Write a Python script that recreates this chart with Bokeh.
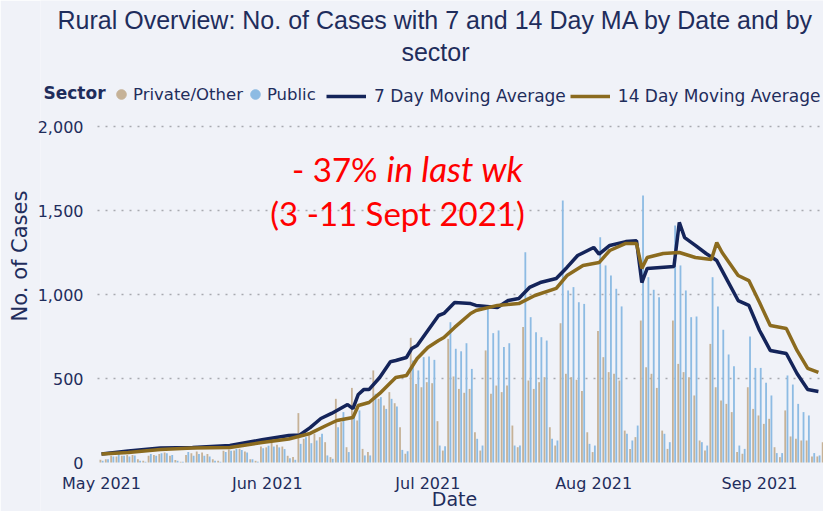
import pandas as pd
from bokeh.plotting import figure
from bokeh.models import (ColumnDataSource, Range1d, Legend, LegendItem, Label,
                          FixedTicker, DatetimeTickFormatter, NumeralTickFormatter)
from bokeh.transform import dodge
from bokeh.embed import file_html
from bokeh.resources import INLINE

# ---------------- data ----------------
start_date = "2021-05-01"

private_other = [
    16, 20, 40, 36, 40, 45, 45, 20, 10, 40, 45, 50, 60, 40, 15, 5, 45, 55, 65, 60,
    50, 20, 10, 70, 78, 72, 82, 65, 20, 10, 95,
    90, 120, 105, 95, 40, 32, 294, 141, 161, 171, 151, 121, 32, 379, 240, 91, 444, 250, 81,
    62, 548, 379, 339, 419, 353, 210, 52, 742, 468, 448,
    478, 472, 246, 71, 736, 512, 438, 415, 438, 180, 71, 667, 409, 458, 419, 458, 220, 91,
    806, 488, 438, 478, 508, 210, 101, 829, 528, 508, 492, 425, 180,
    62, 782, 627, 538, 528, 488, 190, 81, 151, 845, 567, 528, 444, 190, 81, 845, 587, 538,
    508, 399, 131, 71, 706, 448, 369, 349, 300, 62, 52, 448, 319,
    280, 230, 260, 91, 32, 310, 155, 141, 131, 131, 36, 36, 121,
]

public = [
    10, 20, 36, 50, 40, 36, 42, 10, 5, 50, 40, 55, 55, 45, 10, 5, 62, 40, 50, 40,
    35, 10, 5, 62, 70, 80, 75, 60, 20, 5, 85,
    100, 95, 90, 80, 25, 16, 111, 151, 115, 131, 171, 42, 22, 210, 300, 62, 275, 310, 42,
    42, 409, 389, 319, 379, 333, 75, 67, 607, 548, 627,
    631, 611, 101, 97, 835, 677, 662, 710, 557, 141, 101, 925, 770, 786, 687, 710, 101, 101,
    1252, 865, 776, 746, 726, 141, 131, 1560, 1024, 1044, 954, 944, 111,
    101, 1341, 1173, 1113, 1034, 929, 171, 131, 220, 1589, 1103, 1028, 984, 171, 121, 1411, 1173, 1024,
    865, 869, 121, 101, 1103, 929, 790, 643, 573, 101, 81, 750, 563,
    563, 474, 399, 56, 56, 518, 464, 349, 300, 280, 56, 42, 60,
]

ma7_dates = [
    "2021-05-01", "2021-05-06", "2021-05-12", "2021-05-18", "2021-05-25", "2021-05-31",
    "2021-06-05", "2021-06-07", "2021-06-09", "2021-06-11", "2021-06-13", "2021-06-14",
    "2021-06-16", "2021-06-17", "2021-06-18", "2021-06-19", "2021-06-20", "2021-06-22",
    "2021-06-24", "2021-06-25", "2021-06-27", "2021-06-28", "2021-06-29", "2021-07-01",
    "2021-07-03", "2021-07-04", "2021-07-06", "2021-07-09", "2021-07-10", "2021-07-14",
    "2021-07-16", "2021-07-18", "2021-07-20", "2021-07-22", "2021-07-25", "2021-07-27",
    "2021-07-29", "2021-08-01", "2021-08-02", "2021-08-04", "2021-08-07", "2021-08-09",
    "2021-08-10", "2021-08-11", "2021-08-16", "2021-08-17", "2021-08-18", "2021-08-20",
    "2021-08-22", "2021-08-24", "2021-08-26", "2021-08-28", "2021-08-30", "2021-09-01",
    "2021-09-03", "2021-09-06", "2021-09-08", "2021-09-10", "2021-09-12",
]
ma7 = [
    50, 68, 86, 89, 101, 135,
    161, 163, 208, 262, 292, 310,
    345, 321, 405, 434, 434, 506,
    600, 607, 625, 679, 696, 786,
    875, 887, 952, 946, 935, 923,
    964, 976, 1042, 1071, 1095, 1161,
    1232, 1280, 1240, 1292, 1315, 1320,
    1071, 1155, 1167, 1429, 1339, 1292,
    1244, 1202, 1083, 964, 935, 786,
    667, 649, 530, 434, 423,
]

ma14_dates = [
    "2021-05-01", "2021-05-06", "2021-05-12", "2021-05-18", "2021-05-25", "2021-05-31",
    "2021-06-05", "2021-06-09", "2021-06-12", "2021-06-14", "2021-06-17", "2021-06-18",
    "2021-06-20", "2021-06-22", "2021-06-25", "2021-06-27", "2021-06-29", "2021-07-01",
    "2021-07-03", "2021-07-04", "2021-07-06", "2021-07-09", "2021-07-10", "2021-07-14",
    "2021-07-18", "2021-07-21", "2021-07-25", "2021-07-27", "2021-07-30", "2021-08-02",
    "2021-08-04", "2021-08-07", "2021-08-09", "2021-08-10", "2021-08-11", "2021-08-14",
    "2021-08-17", "2021-08-20", "2021-08-23", "2021-08-24", "2021-08-25", "2021-08-28",
    "2021-08-30", "2021-09-01", "2021-09-03", "2021-09-06", "2021-09-08", "2021-09-10",
    "2021-09-12",
]
ma14 = [
    50, 60, 77, 86, 89, 119,
    140, 173, 220, 250, 268, 339,
    357, 411, 506, 518, 619, 685,
    726, 744, 804, 887, 905, 935,
    946, 994, 1036, 1113, 1173, 1190,
    1262, 1304, 1304, 1155, 1220, 1244,
    1250, 1220, 1208, 1309, 1250, 1113,
    1083, 952, 815, 798, 667, 560,
    536,
]

tick_dates = ["2021-05-01", "2021-06-01", "2021-07-01", "2021-08-01", "2021-09-01"]
y_ticks = [0, 500, 1000, 1500, 2000]
grid_values = [500, 1000, 1500, 2000]

# ---------------- layout / styling ----------------
BG = "#f0f2f8"
NAVY_TXT = "#1f2d5c"
TAN = "#c6b297"
BLUE = "#8dbbe3"
NAVY = "#14245a"
BROWN = "#8b6b1f"
DAY = 86400000.0

W, H = 823, 511
LEFT, RIGHT, TOP, BOTTOM = 40, 0, 0, 0
F_LEFT, F_BOTTOM = LEFT, H - BOTTOM
PX_PER_DAY = 5.35
X0_PX = 101           # pixel of 1 May 2021
Y0_PX, PX_PER_CASE = 462, 0.168

t0 = pd.Timestamp(start_date)


def px_to_ms(px):
    return (t0 + pd.Timedelta(days=(px - X0_PX) / PX_PER_DAY)).value / 1e6


def py_to_val(py):
    return (Y0_PX - py) / PX_PER_CASE


dates = pd.date_range(start_date, periods=len(public), freq="D")
src = ColumnDataSource(dict(date=dates, private=private_other, public=public))
src7 = ColumnDataSource(dict(date=pd.to_datetime(ma7_dates), v=ma7))
src14 = ColumnDataSource(dict(date=pd.to_datetime(ma14_dates), v=ma14))

p = figure(width=W, height=H, x_axis_type="datetime", output_backend="svg",
           toolbar_location=None, title=None,
           x_range=Range1d(px_to_ms(F_LEFT), px_to_ms(W)),
           y_range=Range1d(py_to_val(F_BOTTOM), py_to_val(TOP)),
           min_border_left=LEFT, min_border_right=RIGHT,
           min_border_top=TOP, min_border_bottom=BOTTOM)
p.background_fill_color = BG
p.border_fill_color = BG
p.outline_line_color = None

# dotted gridlines starting at the plot's left edge (as in the reference)
p.segment(x0=[px_to_ms(97)] * len(grid_values), x1=[px_to_ms(W)] * len(grid_values),
          y0=grid_values, y1=grid_values, line_color="#a8aab0", line_dash="2 6",
          line_width=1.5)

bw = 0.34 * DAY
r_priv = p.vbar(x=dodge("date", -0.2 * DAY), top="private", width=bw, source=src,
                color=TAN, line_color=None)
r_pub = p.vbar(x=dodge("date", 0.22 * DAY), top="public", width=bw, source=src,
               color=BLUE, line_color=None)
r7 = p.line("date", "v", source=src7, line_color=NAVY, line_width=3.5)
r14 = p.line("date", "v", source=src14, line_color=BROWN, line_width=3.5)

# legend proxies (dots) - a single NaN point, so nothing is drawn in the plot
nan = float("nan")
d_priv = p.scatter([nan], [nan], marker="circle", size=11, color=TAN)
d_pub = p.scatter([nan], [nan], marker="circle", size=11, color=BLUE)

# axes
p.xaxis.ticker = FixedTicker(ticks=[pd.Timestamp(d).value / 1e6 for d in tick_dates])
fmt = "%b %Y"
p.xaxis.formatter = DatetimeTickFormatter(days=fmt, months=fmt, years=fmt, hours=fmt,
                                          minutes=fmt, seconds=fmt)
p.yaxis.ticker = FixedTicker(ticks=y_ticks)
p.yaxis.formatter = NumeralTickFormatter(format="0,0")
for ax in (p.xaxis[0], p.yaxis[0]):
    ax.axis_line_color = None
    ax.major_tick_line_color = None
    ax.minor_tick_line_color = None
    ax.major_tick_out = 0
    ax.major_tick_in = 0
    ax.major_label_text_font = "DejaVu Sans"
    ax.major_label_text_font_size = "16px"
    ax.major_label_text_color = NAVY_TXT
    ax.axis_label_text_font = "DejaVu Sans"
    ax.axis_label_text_font_style = "normal"
    ax.axis_label_text_color = NAVY_TXT
# tick labels sit inside the (widened) frame, as in the reference layout
p.xaxis.major_label_standoff = -38
p.yaxis.major_label_standoff = -43
p.yaxis.axis_label = "No. of Cases"
p.yaxis.axis_label_text_font_size = "21px"
p.yaxis.axis_label_standoff = 3

p.xgrid.grid_line_color = None
p.ygrid.grid_line_color = None

# legends
LEG_BOTTOM = 106
leg1 = Legend(items=[LegendItem(label="Private/Other", renderers=[d_priv]),
                     LegendItem(label="Public", renderers=[d_pub])],
              orientation="horizontal", location=(109 - F_LEFT, F_BOTTOM - LEG_BOTTOM - 2),
              glyph_width=24, glyph_height=28, label_standoff=0, spacing=0,
              padding=0, margin=0, label_height=16)
leg1.label_text_font_size = "16.5px"
leg2 = Legend(items=[LegendItem(label="7 Day Moving Average", renderers=[r7]),
                     LegendItem(label="14 Day Moving Average", renderers=[r14])],
              orientation="horizontal", location=(326 - F_LEFT, F_BOTTOM - LEG_BOTTOM),
              glyph_width=40, glyph_height=16, label_standoff=8, spacing=4,
              padding=0, margin=0, label_height=16)
leg2.label_text_font_size = "17px"
for lg in (leg1, leg2):
    lg.background_fill_alpha = 0
    lg.border_line_alpha = 0
    lg.label_text_font = "DejaVu Sans"
    lg.label_text_color = NAVY_TXT
    p.add_layout(lg)


def add_text(text, px, py, font, size, color, align="left", style="normal"):
    # py is the wanted baseline; the renderer sets text ~0.38 em lower
    fs = float(size.replace("px", ""))
    p.add_layout(Label(x=px_to_ms(px), y=py_to_val(py - 0.38 * fs), text=text,
                       text_font=font, text_font_size=size, text_color=color,
                       text_align=align, text_baseline="alphabetic",
                       text_font_style=style))


add_text("Rural Overview: No. of Cases with 7 and 14 Day MA by Date and by",
         435, 29, "Liberation Sans", "25px", NAVY_TXT, "center")
add_text("sector", 435, 61, "Liberation Sans", "25px", NAVY_TXT, "center")
add_text("Sector", 43, 99, "DejaVu Sans", "17px", NAVY_TXT, "left", "bold")
add_text("- 37%", 377, 181, "Lato", "33px", "#ff0000", "right")
add_text("in last wk", 386, 181, "Lato", "35px", "#ff0000", "left", "italic")
add_text("(3 -11 Sept 2021)", 397, 225, "Lato", "33px", "#ff0000", "center")
add_text("Date", 454, 506, "DejaVu Sans", "19px", NAVY_TXT, "center")

open("out.html", "w").write(file_html(p, INLINE))
